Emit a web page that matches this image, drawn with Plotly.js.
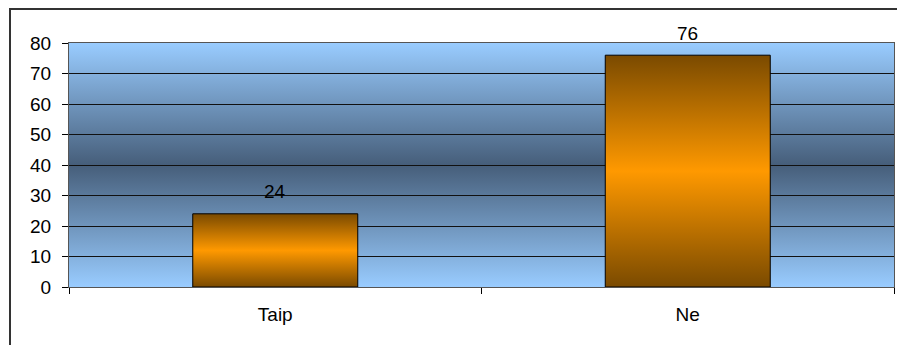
<!DOCTYPE html>
<html>
<head>
<meta charset="utf-8">
<script src="https://cdn.plot.ly/plotly-3.0.1.min.js"></script>
<style>
  html, body { margin: 0; padding: 0; background: #ffffff; overflow: hidden; }
  #frame {
    position: absolute; left: 9px; top: 8px; width: 900px; height: 400px;
    border: 2px solid #333333; box-sizing: border-box; pointer-events: none; z-index: 2;
  }
  #chart { position: absolute; left: 0; top: 0; width: 897px; height: 345px; }
</style>
</head>
<body>
<div id="chart"></div>
<div id="frame"></div>
<script>
// Answers and their share
const categories = ["Taip", "Ne"];
const values = [24, 76];
const yTicks = [0, 10, 20, 30, 40, 50, 60, 70, 80];

const font = { family: "Liberation Sans, Arial, sans-serif", size: 19, color: "#000000" };

const bars = {
  type: "bar",
  x: categories,
  y: values,
  marker: { color: "#ff9900", line: { color: "#000000", width: 1 } },
  hoverinfo: "skip"
};

// value labels above each bar
const labels = categories.map((c, i) => ({
  x: c, y: values[i], xref: "x", yref: "y",
  text: String(values[i]), showarrow: false,
  yanchor: "middle", yshift: 22, font: font
}));

const layout = {
  width: 897, height: 345,
  margin: { l: 69, r: 3, t: 43, b: 58 },
  paper_bgcolor: "rgba(0,0,0,0)",
  plot_bgcolor: "#99ccff",
  bargap: 0.6,
  showlegend: false,
  font: font,
  xaxis: {
    type: "category",
    tickson: "boundaries",
    ticks: "outside", ticklen: 6, tickcolor: "#000000",
    ticklabelstandoff: 10,
    showgrid: false,
    showline: true, linecolor: "#555555", linewidth: 1, mirror: true,
    tickfont: font
  },
  yaxis: {
    range: [0, 80],
    tickvals: yTicks,
    ticks: "outside", ticklen: 6, tickcolor: "#000000",
    ticklabelstandoff: 7,
    showgrid: true, gridcolor: "#111111", gridwidth: 1,
    zeroline: false,
    showline: true, linecolor: "#555555", linewidth: 1, mirror: true,
    tickfont: font
  },
  annotations: labels
};

function addGradient(defs, id, stops) {
  const ns = "http://www.w3.org/2000/svg";
  const g = document.createElementNS(ns, "linearGradient");
  g.setAttribute("id", id);
  g.setAttribute("x1", "0"); g.setAttribute("y1", "0");
  g.setAttribute("x2", "0"); g.setAttribute("y2", "1");
  stops.forEach(([off, col]) => {
    const s = document.createElementNS(ns, "stop");
    s.setAttribute("offset", off);
    s.setAttribute("stop-color", col);
    g.appendChild(s);
  });
  defs.appendChild(g);
}

Plotly.newPlot("chart", [bars], layout, { displayModeBar: false, staticPlot: true }).then(gd => {
  const svg = gd.querySelector("svg.main-svg");
  let defs = svg.querySelector("defs");
  if (!defs) { defs = document.createElementNS("http://www.w3.org/2000/svg", "defs"); svg.prepend(defs); }
  // plot area: light blue edges, dark slate middle
  addGradient(defs, "plotShade", [
    ["0", "#99ccff"], ["0.5", "#465e7a"], ["1", "#99ccff"]
  ]);
  // bars: dark brown edges, bright orange middle
  addGradient(defs, "barShade", [
    ["0", "#7a4a00"], ["0.5", "#ff9900"], ["1", "#7a4a00"]
  ]);
  gd.querySelectorAll(".bglayer rect.bg").forEach(r => { r.style.fill = "url(#plotShade)"; });
  gd.querySelectorAll(".barlayer .point path").forEach(p => { p.style.fill = "url(#barShade)"; });
});
</script>
</body>
</html>
